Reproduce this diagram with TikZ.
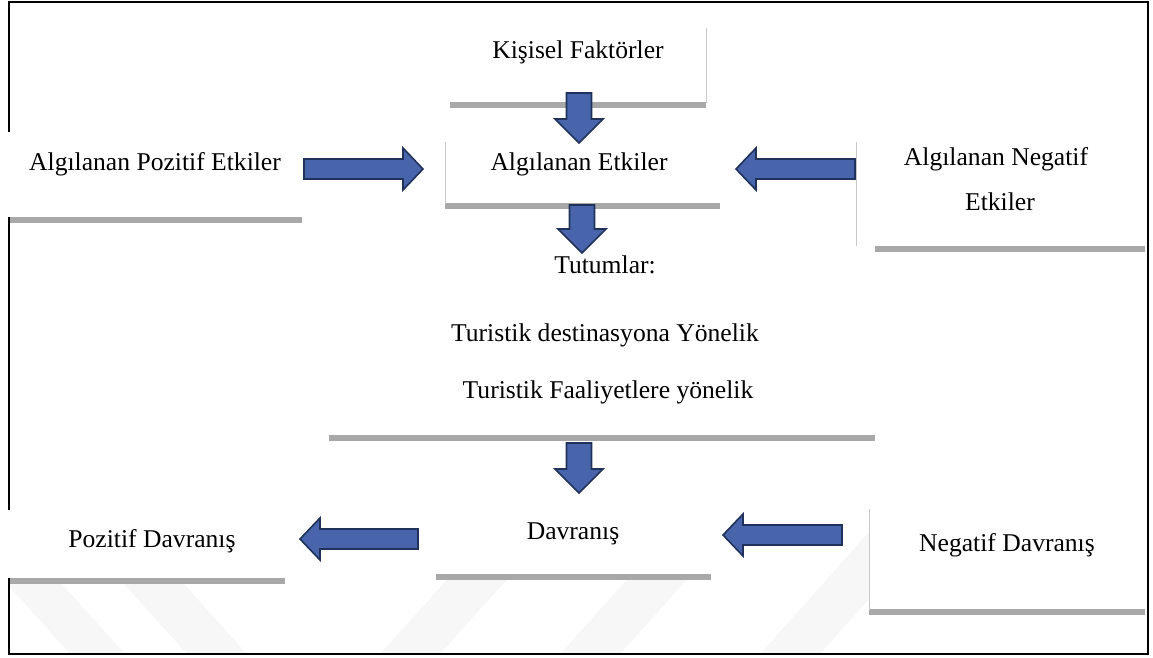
\documentclass[tikz,border=0pt]{standalone}
\usepackage{fontspec}
\setmainfont{Liberation Serif}
\usetikzlibrary{calc}
\definecolor{arrowfill}{RGB}{72,101,172}
\definecolor{arrowline}{RGB}{32,50,90}
\definecolor{shadowgray}{RGB}{168,168,168}
\definecolor{edgegray}{RGB}{200,200,200}
\definecolor{wmgray}{RGB}{247,247,247}
\tikzset{
  lbl/.style={font=\fontsize{25.6}{30}\selectfont, inner sep=0pt, anchor=base, text=black},
  shadowline/.style={draw=shadowgray, line width=5.5pt},
  edgeline/.style={draw=edgegray, line width=0.9pt},
  blockarrow/.style={draw=arrowline, fill=arrowfill, line width=1.6pt, line join=miter},
  frameline/.style={draw=black, line width=1.8pt},
  watermark/.style={fill=wmgray, draw=none},
  boxfill/.style={fill=white, draw=none},
}
\newcommand\blockH[2]{%
  \draw[blockarrow] let \p1=(#1), \p2=(#2), \n1={ifthenelse(\x2>\x1,1,-1)} in
  (\x1,{\y1+10pt}) -- ({\x2-\n1*20pt},{\y1+10pt}) -- ({\x2-\n1*20pt},{\y1+21pt})
  -- (\x2,\y1) -- ({\x2-\n1*20pt},{\y1-21pt}) -- ({\x2-\n1*20pt},{\y1-10pt})
  -- (\x1,{\y1-10pt}) -- cycle;}
\newcommand\blockV[2]{%
  \draw[blockarrow] let \p1=(#1), \p2=(#2), \n1={ifthenelse(\y2>\y1,1,-1)} in
  ({\x1-12.5pt},\y1) -- ({\x1-12.5pt},{\y2-\n1*24pt}) -- ({\x1-24pt},{\y2-\n1*24pt})
  -- (\x1,\y2) -- ({\x1+24pt},{\y2-\n1*24pt}) -- ({\x1+12.5pt},{\y2-\n1*24pt})
  -- ({\x1+12.5pt},\y1) -- cycle;}
\begin{document}
\begin{tikzpicture}[x=1pt,y=-1pt]
\useasboundingbox (0,0) rectangle (1153,657);
% faint watermark stripes
\begin{scope}
  \clip (9,2) rectangle (1148,654);
  \fill[watermark] (-19,555) -- (36,555) -- (125,654) -- (70,654) -- cycle;
  \fill[watermark] (98,555) -- (158,555) -- (247,654) -- (187,654) -- cycle;
  \fill[watermark] (469,555) -- (529,555) -- (440,654) -- (380,654) -- cycle;
  \fill[watermark] (649,555) -- (709,555) -- (620,654) -- (560,654) -- cycle;
  \fill[watermark] (869,532) -- (929,532) -- (820,654) -- (760,654) -- cycle;
\end{scope}
% outer frame
\draw[frameline] (9,2) rectangle (1148,654);
% box backgrounds
\fill[boxfill] (3,132) rectangle (302,217);
\fill[boxfill] (3,510) rectangle (285,578);
\fill[boxfill] (436,500) rectangle (711,575);
\fill[boxfill] (869,509) rectangle (1145,610);
% box shadow lines
\draw[shadowline] (450,105) -- (706,105);
\draw[shadowline] (10,220) -- (302,220);
\draw[shadowline] (445,206) -- (720,206);
\draw[shadowline] (875,249) -- (1145,249);
\draw[shadowline] (329,438) -- (875,438);
\draw[shadowline] (436,577) -- (711,577);
\draw[shadowline] (10,581) -- (285,581);
\draw[shadowline] (869,612) -- (1145,612);
% thin box edges
\draw[edgeline] (706,28) -- (706,103);
\draw[edgeline] (445,142) -- (445,204);
\draw[edgeline] (856,142) -- (856,246);
\draw[edgeline] (869,509) -- (869,610);
% texts
\node[lbl] (kf) at (578,58) {Kişisel Faktörler};
\node[lbl] (pe) at (155,170) {Algılanan Pozitif Etkiler};
\node[lbl] (ae) at (579,170) {Algılanan Etkiler};
\node[lbl] (ne1) at (996,165) {Algılanan Negatif};
\node[lbl] (ne2) at (1000,210) {Etkiler};
\node[lbl] (tu1) at (605,273) {Tutumlar:};
\node[lbl] (tu2) at (605,341) {Turistik destinasyona Yönelik};
\node[lbl] (tu3) at (608,398) {Turistik Faaliyetlere yönelik};
\node[lbl] (dv) at (573,539) {Davranış};
\node[lbl] (pd) at (152,547) {Pozitif Davranış};
\node[lbl] (nd) at (1007,551) {Negatif Davranış};
% arrow end points
\coordinate (a1s) at (579,93);  \coordinate (a1e) at (579,143);
\coordinate (a2s) at (304,169); \coordinate (a2e) at (423,169);
\coordinate (a3s) at (855,169); \coordinate (a3e) at (736,169);
\coordinate (a4s) at (582,205); \coordinate (a4e) at (582,253);
\coordinate (a5s) at (579,443); \coordinate (a5e) at (579,493);
\coordinate (a6s) at (418,539); \coordinate (a6e) at (300,539);
\coordinate (a7s) at (842,535); \coordinate (a7e) at (723,535);
% block arrows
\blockV{a1s}{a1e}
\blockH{a2s}{a2e}
\blockH{a3s}{a3e}
\blockV{a4s}{a4e}
\blockV{a5s}{a5e}
\blockH{a6s}{a6e}
\blockH{a7s}{a7e}
\end{tikzpicture}
\end{document}
